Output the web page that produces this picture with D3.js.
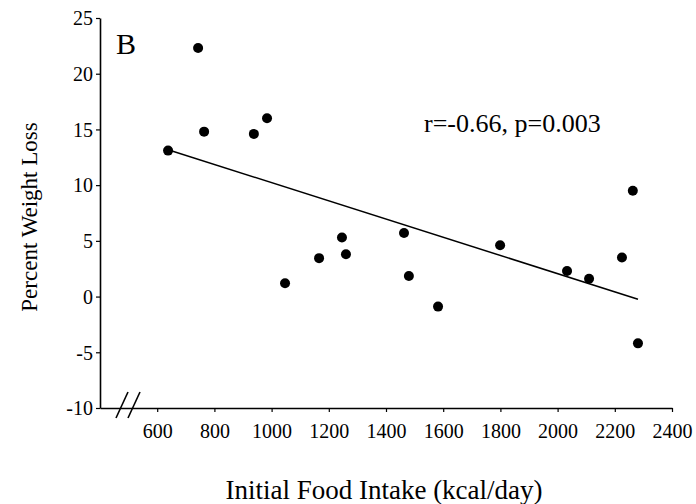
<!DOCTYPE html>
<html>
<head>
<meta charset="utf-8">
<script src="https://cdn.jsdelivr.net/npm/d3@7"></script>
<style>
  body { margin: 0; background: #fff; }
  svg { display: block; }
  text { font-family: "Liberation Serif", "DejaVu Serif", serif; fill: #000; }
</style>
</head>
<body>
<svg id="chart" width="696" height="504"></svg>
<script>
// Initial food intake (kcal/day) for each subject
const intake = [638, 743, 764, 938, 984, 1047, 1166, 1246, 1260, 1463, 1480, 1582, 1799, 2033, 2110, 2225, 2263, 2281];
// Percent weight loss for each subject
const weightLoss = [13.1, 22.3, 14.8, 14.6, 16.0, 1.2, 3.45, 5.3, 3.8, 5.7, 1.85, -0.9, 4.6, 2.3, 1.6, 3.5, 9.5, -4.2];

const xTicks = [600, 800, 1000, 1200, 1400, 1600, 1800, 2000, 2200, 2400];
const yTicks = [-10, -5, 0, 5, 10, 15, 20, 25];

const panelLabel = "B";
const statLabel = "r=-0.66, p=0.003";
const xTitle = "Initial Food Intake (kcal/day)";
const yTitle = "Percent Weight Loss";

const svg = d3.select("#chart");

const x = d3.scaleLinear().domain([400, 2400]).range([100, 672]);
const y = d3.scaleLinear().domain([-10, 25]).range([408, 18]);

// Axes (plain hyphen for negatives, no thousands separators)
const plain = d => String(d);
const xAxis = d3.axisBottom(x).tickValues(xTicks).tickFormat(plain).tickSize(4).tickSizeOuter(0);
const yAxis = d3.axisLeft(y).tickValues(yTicks).tickFormat(plain).tickSize(4).tickSizeOuter(0).tickPadding(3);

const gx = svg.append("g").attr("transform", "translate(0,408)").call(xAxis);
const gy = svg.append("g").attr("transform", "translate(100,0)").call(yAxis);

[gx, gy].forEach(g => {
  g.select(".domain").attr("stroke", "#000").attr("stroke-width", 1.6);
  g.selectAll(".tick line").attr("stroke", "#000").attr("stroke-width", 1.2);
  g.selectAll(".tick text").style("font-family", "'Liberation Serif', serif").style("font-size", "20px").attr("fill", "#000");
});
gy.selectAll(".tick text").attr("dy", "0.34em");
gx.selectAll(".tick text").attr("y", 30).attr("dy", 0);

// Axis break marks on the x axis
const breakMarks = [0, 12];
svg.append("g").selectAll("line").data(breakMarks).join("line")
  .attr("x1", d => 116 + d).attr("y1", 418)
  .attr("x2", d => 128 + d).attr("y2", 392)
  .attr("stroke", "#000").attr("stroke-width", 1.6);

// Least-squares regression line across the range of the data
const mx = d3.mean(intake), my = d3.mean(weightLoss);
let sxy = 0, sxx = 0;
intake.forEach((v, i) => { sxy += (v - mx) * (weightLoss[i] - my); sxx += (v - mx) * (v - mx); });
const slope = sxy / sxx, intercept = my - slope * mx;
const [xmin, xmax] = d3.extent(intake);
svg.append("line")
  .attr("x1", x(xmin)).attr("y1", y(intercept + slope * xmin))
  .attr("x2", x(xmax)).attr("y2", y(intercept + slope * xmax))
  .attr("stroke", "#000").attr("stroke-width", 1.5);

// Data points
svg.append("g").selectAll("circle").data(intake).join("circle")
  .attr("cx", d => x(d))
  .attr("cy", (d, i) => y(weightLoss[i]))
  .attr("r", 5)
  .attr("fill", "#000");

// Annotations
svg.append("text").attr("x", 116).attr("y", 54).style("font-size", "30px").text(panelLabel);
svg.append("text").attr("x", 424).attr("y", 132).style("font-size", "26px").text(statLabel);

// Axis titles
svg.append("text").attr("x", 384).attr("y", 499).attr("text-anchor", "middle")
  .style("font-size", "27px").text(xTitle);
svg.append("text").attr("transform", "translate(37,217) rotate(-90)").attr("text-anchor", "middle")
  .style("font-size", "23px").text(yTitle);
</script>
</body>
</html>
